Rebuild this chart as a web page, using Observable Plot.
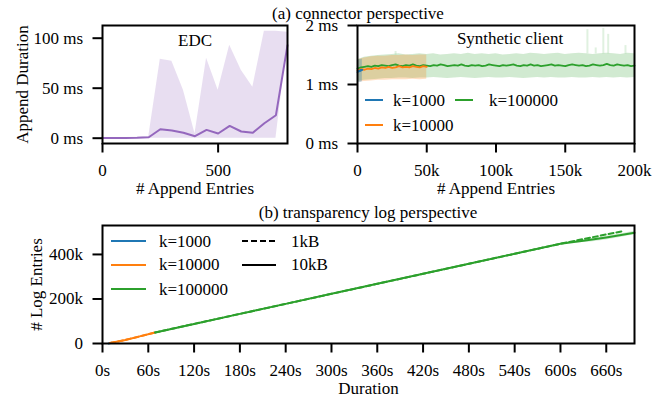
<!DOCTYPE html>
<html><head><meta charset="utf-8">
<script src="https://cdn.jsdelivr.net/npm/d3@7"></script>
<script src="https://cdn.jsdelivr.net/npm/@observablehq/plot@0.6"></script>
<style>
body{margin:0;background:#fff;}
#wrap{position:relative;width:663px;height:398px;font-family:"Liberation Serif","Times New Roman",serif;font-size:17px;color:#000;overflow:hidden;}
#wrap svg.p{position:absolute;left:0;top:0;}
.t{position:absolute;white-space:nowrap;transform:translate(-50%,-50%);line-height:1;}
.leg{position:absolute;display:flex;align-items:center;white-space:nowrap;line-height:1;height:18px;}
.leg svg{display:block;}
</style></head><body><div id="wrap"></div>
<script>
// ---------- (a) EDC ----------
const edcX    = [0, 50, 100, 150, 200, 250, 300, 350, 400, 450, 500, 550, 600, 650, 700, 750, 800];
const edcMean = [0.2, 0.2, 0.3, 0.5, 1, 9, 7.7, 5.4, 2, 8.3, 4.7, 12.3, 6.7, 5.4, 15, 23, 93];
const edcLo   = [0, 0, 0, 0, 0, 0, 0, 0, 0, 0, 0, 0, 0, 0, 0, 0, 95];
const edcHi   = [0.5, 0.6, 0.7, 0.9, 1.5, 79, 77, 48, 4.4, 80, 48, 93, 68, 51, 107, 107, 106];
const edcXTicks = [0, 500];
const edcYTicks = [0, 50, 100];

// ---------- (a) Synthetic client ----------
const synKeys = ["k=1000", "k=10000", "k=100000"];
const k1000X  = [0, 500, 1000, 1500, 2000, 2500, 3000, 3500];
const k1000Y  = [1.21, 1.23, 1.22, 1.24, 1.23, 1.25, 1.24, 1.25];
const k1000Lo = [1.03, 1.03, 1.04, 1.03, 1.04, 1.04, 1.04, 1.05];
const k1000Hi = [1.40, 1.41, 1.42, 1.42, 1.43, 1.42, 1.43, 1.43];

const k10000X = [0, 2500, 5000, 7500, 10000, 12500, 15000, 17500, 20000, 22500, 25000, 27500, 30000, 32500, 35000, 37500, 40000, 42500, 45000, 47500, 50000];
const k10000Y = [1.24, 1.26, 1.25, 1.27, 1.26, 1.28, 1.27, 1.29, 1.28, 1.30, 1.28, 1.29, 1.31, 1.29, 1.30, 1.29, 1.31, 1.30, 1.29, 1.31, 1.30];
const k10000BandX = [0, 5000, 10000, 15000, 20000, 25000, 30000, 35000, 40000, 45000, 50000];
const k10000Hi = [1.42, 1.45, 1.47, 1.48, 1.48, 1.49, 1.49, 1.50, 1.49, 1.50, 1.50];
const k10000Lo = [1.04, 1.05, 1.06, 1.07, 1.07, 1.08, 1.08, 1.08, 1.09, 1.08, 1.09];

const k100000X = [0,2500,5000,7500,10000,12500,15000,17500,20000,22500,
  25000,27500,30000,32500,35000,37500,40000,42500,45000,47500,
  50000,52500,55000,57500,60000,62500,65000,67500,70000,72500,
  75000,77500,80000,82500,85000,87500,90000,92500,95000,97500,
  100000,102500,105000,107500,110000,112500,115000,117500,120000,122500,
  125000,127500,130000,132500,135000,137500,140000,142500,145000,147500,
  150000,152500,155000,157500,160000,162500,165000,167500,170000,172500,
  175000,177500,180000,182500,185000,187500,190000,192500,195000,197500,
  200000];
const k100000Y = [1.27,1.29,1.30,1.31,1.30,1.32,1.31,1.33,1.32,1.31,
  1.33,1.34,1.32,1.31,1.33,1.32,1.34,1.32,1.31,1.33,
  1.32,1.31,1.33,1.32,1.34,1.33,1.31,1.32,1.33,1.32,
  1.34,1.32,1.31,1.33,1.32,1.33,1.31,1.32,1.34,1.33,
  1.32,1.31,1.33,1.32,1.33,1.34,1.32,1.31,1.33,1.32,
  1.34,1.32,1.33,1.31,1.32,1.33,1.34,1.32,1.33,1.32,
  1.31,1.33,1.34,1.33,1.32,1.33,1.31,1.32,1.34,1.33,
  1.32,1.33,1.35,1.33,1.32,1.34,1.33,1.32,1.33,1.31,
  1.32];
const k100000BandX = [0,5000,10000,15000,20000,25000,30000,35000,40000,45000,
  50000,55000,60000,65000,70000,75000,80000,85000,90000,95000,
  100000,105000,110000,115000,120000,125000,130000,135000,140000,145000,
  150000,155000,160000,165000,170000,175000,180000,185000,190000,195000,
  200000];
const k100000Hi = [1.42,1.46,1.48,1.49,1.50,1.51,1.52,1.50,1.51,1.52,
  1.51,1.52,1.50,1.51,1.52,1.51,1.53,1.51,1.52,1.51,
  1.52,1.50,1.51,1.52,1.51,1.53,1.52,1.51,1.52,1.53,
  1.51,1.52,1.53,1.52,1.51,1.52,1.53,1.52,1.51,1.53,
  1.52];
const k100000Lo = [1.05,1.07,1.08,1.09,1.10,1.10,1.11,1.11,1.10,1.11,
  1.11,1.12,1.11,1.10,1.11,1.12,1.11,1.10,1.11,1.12,
  1.11,1.11,1.12,1.11,1.10,1.11,1.12,1.11,1.12,1.11,
  1.11,1.12,1.11,1.11,1.12,1.11,1.12,1.11,1.12,1.11,
  1.12];
const spikeX    = [27500, 166000, 172000, 177500, 181000, 193500];
const spikeBase = [1.50, 1.52, 1.52, 1.52, 1.52, 1.52];
const spikeTop  = [1.56, 1.93, 1.62, 1.95, 1.85, 1.66];
const synXTicks = [0, 50000, 100000, 150000, 200000];
const synYTicks = [0, 1, 2];

// ---------- (b) transparency log ----------
const sizeKeys = ["1kB", "10kB"];
const logK1000T = [8, 12];
const logK1000V = [0, 3000];
const logK10000T = [10, 30, 50, 69];
const logK10000V = [2000, 16000, 33000, 49500];
const logK100000T10 = [69, 120, 180, 240, 300, 360, 420, 480, 540, 600, 630, 660, 697];
const logK100000V10 = [49500, 88000, 133000, 178000, 223000, 268000, 313000, 358000, 403000, 448000, 461000, 476000, 497000];
const logK100000T1 = [69, 120, 180, 240, 300, 360, 420, 480, 540, 600, 640, 681];
const logK100000V1 = [49500, 88000, 133000, 178000, 223000, 268000, 313000, 358000, 403000, 448000, 476000, 504000];
const logBandT  = [600, 620, 640, 660, 680, 697];
const logBandLo = [446000, 451000, 456000, 465000, 477000, 489000];
const logBandHi = [450000, 461000, 471000, 482000, 493000, 504000];
const logXTicks = [0, 60, 120, 180, 240, 300, 360, 420, 480, 540, 600, 660];
const logYTicks = [0, 200000, 400000];

// ---------- drawing ----------
const C = {blue: "#1f77b4", orange: "#ff7f0e", green: "#2ca02c", purple: "#9467bd"};
const W = 663, H = 398;
const style = {fontFamily: '"Liberation Serif","Times New Roman",serif', fontSize: "17px", background: "transparent", overflow: "visible", color: "black"};
const zip = (xs, ...cols) => xs.map((x, i) => [x, ...cols.map(c => c[i])]);
const kfmt = d => d === 0 ? "0" : `${d / 1000}k`;
const T = {textAnchor: "middle", lineAnchor: "middle", text: d => d};

const wrap = document.getElementById("wrap");
function add(svg) { svg.classList.add("p"); wrap.appendChild(svg); }

// EDC panel
const edc = zip(edcX, edcMean, edcLo, edcHi);
add(Plot.plot({
  width: W, height: H, marginLeft: 102, marginRight: 376, marginTop: 25, marginBottom: 255,
  style,
  x: {domain: [0, 800]}, y: {domain: [-5.3, 112.7]},
  marks: [
    Plot.areaY(edc, {x: d => d[0], y1: d => d[2], y2: d => d[3], fill: C.purple, fillOpacity: 0.22}),
    Plot.lineY(edc, {x: d => d[0], y: d => d[1], stroke: C.purple, strokeWidth: 2}),
    Plot.frame({stroke: "black", strokeWidth: 2}),
    Plot.axisX({ticks: edcXTicks, tickSize: 9.5, tickPadding: 11, strokeWidth: 2, label: null}),
    Plot.axisY({ticks: edcYTicks, tickFormat: d => `${d} ms`, tickSize: 9.5, tickPadding: 10, strokeWidth: 2, label: null}),
    Plot.text(["# Append Entries"], {...T, frameAnchor: "bottom", dy: 45}),
    Plot.text(["Append Duration"], {...T, frameAnchor: "left", dx: -80, rotate: -90}),
    Plot.text(["EDC"], {...T, frameAnchor: "top", dy: 15})
  ]
}));

// Synthetic client panel
const b1 = zip(k1000X, k1000Lo, k1000Hi), l1 = zip(k1000X, k1000Y);
const b2 = zip(k10000BandX, k10000Lo, k10000Hi), l2 = zip(k10000X, k10000Y);
const b3 = zip(k100000BandX, k100000Lo, k100000Hi), l3 = zip(k100000X, k100000Y);
const spikes = zip(spikeX, spikeBase, spikeTop);
add(Plot.plot({
  width: W, height: H, marginLeft: 357, marginRight: 29, marginTop: 25, marginBottom: 255,
  style,
  x: {domain: [0, 200000]}, y: {domain: [0, 2]},
  marks: [
    Plot.areaY(b3, {x: d => d[0], y1: d => d[1], y2: d => d[2], fill: C.green, fillOpacity: 0.22}),
    Plot.ruleX(spikes, {x: d => d[0], y1: d => d[1], y2: d => d[2], stroke: C.green, strokeOpacity: 0.15, strokeWidth: 2}),
    Plot.areaY(b2, {x: d => d[0], y1: d => d[1], y2: d => d[2], fill: C.orange, fillOpacity: 0.25}),
    Plot.areaY(b1, {x: d => d[0], y1: d => d[1], y2: d => d[2], fill: C.blue, fillOpacity: 0.3}),
    Plot.lineY(l3, {x: d => d[0], y: d => d[1], stroke: C.green, strokeWidth: 1.8}),
    Plot.lineY(l2, {x: d => d[0], y: d => d[1], stroke: C.orange, strokeWidth: 1.8}),
    Plot.lineY(l1, {x: d => d[0], y: d => d[1], stroke: C.blue, strokeWidth: 1.8}),
    Plot.frame({stroke: "black", strokeWidth: 2}),
    Plot.axisX({ticks: synXTicks, tickFormat: kfmt, tickSize: 9.5, tickPadding: 11, strokeWidth: 2, label: null}),
    Plot.axisY({ticks: synYTicks, tickFormat: d => `${d} ms`, tickSize: 9.5, tickPadding: 10, strokeWidth: 2, label: null}),
    Plot.text(["# Append Entries"], {...T, frameAnchor: "bottom", dy: 45}),
    Plot.text(["Synthetic client"], {...T, frameAnchor: "top", dx: 14, dy: 13.5})
  ]
}));

// Transparency log panel
const lb = zip(logBandT, logBandLo, logBandHi);
const s1 = zip(logK1000T, logK1000V), s2 = zip(logK10000T, logK10000V);
const s3a = zip(logK100000T1, logK100000V1), s3b = zip(logK100000T10, logK100000V10);
add(Plot.plot({
  width: W, height: H, marginLeft: 102, marginRight: 29, marginTop: 225, marginBottom: 55,
  style,
  x: {domain: [0, 697]}, y: {domain: [0, 530000]},
  marks: [
    Plot.areaY(lb, {x: d => d[0], y1: d => d[1], y2: d => d[2], fill: C.green, fillOpacity: 0.2}),
    Plot.lineY(s1, {x: d => d[0], y: d => d[1], stroke: C.blue, strokeWidth: 2}),
    Plot.lineY(s2, {x: d => d[0], y: d => d[1], stroke: C.orange, strokeWidth: 2, strokeDasharray: "5,3"}),
    Plot.lineY(s2, {x: d => d[0], y: d => d[1], stroke: C.orange, strokeWidth: 2}),
    Plot.lineY(s3a, {x: d => d[0], y: d => d[1], stroke: C.green, strokeWidth: 2, strokeDasharray: "5,3"}),
    Plot.lineY(s3b, {x: d => d[0], y: d => d[1], stroke: C.green, strokeWidth: 2}),
    Plot.frame({stroke: "black", strokeWidth: 2}),
    Plot.axisX({ticks: logXTicks, tickFormat: d => `${d}s`, tickSize: 9.5, tickPadding: 11, strokeWidth: 2, label: null}),
    Plot.axisY({ticks: logYTicks, tickFormat: kfmt, tickSize: 9.5, tickPadding: 10, strokeWidth: 2, label: null}),
    Plot.text(["Duration"], {...T, frameAnchor: "bottom", dy: 45}),
    Plot.text(["# Log Entries"], {...T, frameAnchor: "left", dx: -66, rotate: -90})
  ]
}));

// titles
function title(txt, cx, cy) {
  const d = document.createElement("div");
  d.className = "t"; d.textContent = txt;
  d.style.left = cx + "px"; d.style.top = cy + "px";
  wrap.appendChild(d);
}
title("(a) connector perspective", 358, 12.5);
title("(b) transparency log perspective", 368, 212);

// legends
function legend(label, color, dash, x, y, len, gap) {
  const d = document.createElement("div");
  d.className = "leg";
  d.style.left = x + "px"; d.style.top = (y - 9) + "px";
  const ns = "http://www.w3.org/2000/svg";
  const s = document.createElementNS(ns, "svg");
  s.setAttribute("width", len); s.setAttribute("height", 18);
  const l = document.createElementNS(ns, "line");
  l.setAttribute("x1", 0); l.setAttribute("x2", len); l.setAttribute("y1", 9); l.setAttribute("y2", 9);
  l.setAttribute("stroke", color); l.setAttribute("stroke-width", 2);
  if (dash) l.setAttribute("stroke-dasharray", dash);
  s.appendChild(l); d.appendChild(s);
  const t = document.createElement("span");
  t.textContent = label; t.style.marginLeft = gap + "px";
  d.appendChild(t);
  wrap.appendChild(d);
}
legend(synKeys[0], C.blue, null, 365, 100, 18, 10);
legend(synKeys[2], C.green, null, 455, 100, 18, 16);
legend(synKeys[1], C.orange, null, 365, 125, 18, 10);

legend(synKeys[0], C.blue, null, 111, 241, 35, 13);
legend(synKeys[1], C.orange, null, 111, 264.5, 35, 13);
legend(synKeys[2], C.green, null, 111, 289, 35, 13);
legend(sizeKeys[0], "black", "6,3", 242, 241, 34, 15);
legend(sizeKeys[1], "black", null, 242, 264.5, 34, 15);
</script></body></html>
